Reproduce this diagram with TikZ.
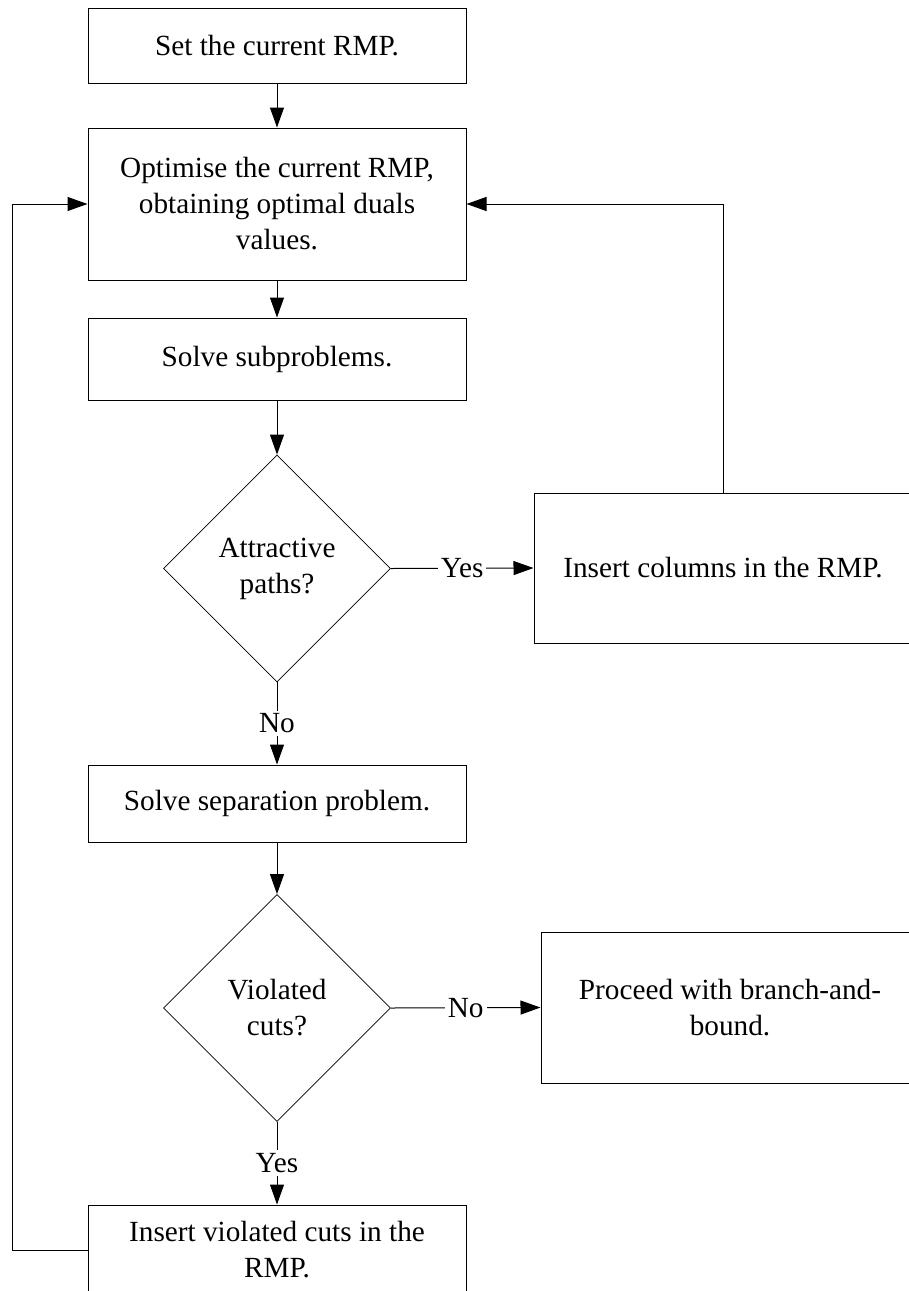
\documentclass[tikz,border=0pt]{standalone}
\usepackage{fontspec}
\setmainfont{Liberation Serif}
\usetikzlibrary{shapes.geometric,arrows.meta}
\begin{document}
\begin{tikzpicture}[x=1pt,y=-1pt,
  every node/.style={font=\fontsize{29.25}{36}\selectfont},
  box/.style={draw=black,line width=1pt,rectangle,minimum width=378pt,inner sep=2pt,align=center},
  dec/.style={draw=black,line width=0.8pt,diamond,aspect=1,minimum width=227pt,minimum height=227pt,inner sep=0pt,align=center},
  arr/.style={line width=1pt,-{Triangle[length=20pt,width=14pt]}},
  lbl/.style={fill=white,inner sep=3pt}]
\useasboundingbox (0,0) rectangle (909,1291);
\clip (0,0) rectangle (909,1291);
\node[box,minimum height=75pt] (set) at (277,45.5) {Set the current RMP.};
\node[box,minimum height=152pt] (opt) at (277,204) {Optimise the current RMP,\\obtaining optimal duals\\values.};
\node[box,minimum height=82pt] (sub) at (277,359) {Solve subproblems.};
\node[dec] (d1) at (277,568.5) {Attractive\\paths?};
\node[box,minimum height=150pt] (cols) at (723,568) {Insert columns in the RMP.};
\node[box,minimum height=77pt] (sep) at (277,803.5) {Solve separation problem.};
\node[dec] (d2) at (277,1008) {Violated\\cuts?};
\node[box,minimum height=151pt] (bb) at (730,1007.5) {Proceed with branch-and-\\bound.};
\node[box,minimum height=90pt] (cuts) at (277,1250) {Insert violated cuts in the\\RMP.};
\coordinate (loopx) at (12,1250);
\draw[arr] (set) -- (opt);
\draw[arr] (opt) -- (sub);
\draw[arr] (sub) -- (d1);
\draw[arr] (d1.east) -- node[lbl]{Yes} (cols.west);
\draw[arr] (cols.north) |- (opt.east);
\draw[arr] (d1.south) -- node[lbl]{No} (sep.north);
\draw[arr] (sep) -- (d2);
\draw[arr] (d2.east) -- node[lbl]{No} (bb.west);
\draw[arr] (d2.south) -- node[lbl]{Yes} (cuts.north);
\draw[arr] (cuts.west) -- (loopx) |- (opt.west);
\end{tikzpicture}
\end{document}
